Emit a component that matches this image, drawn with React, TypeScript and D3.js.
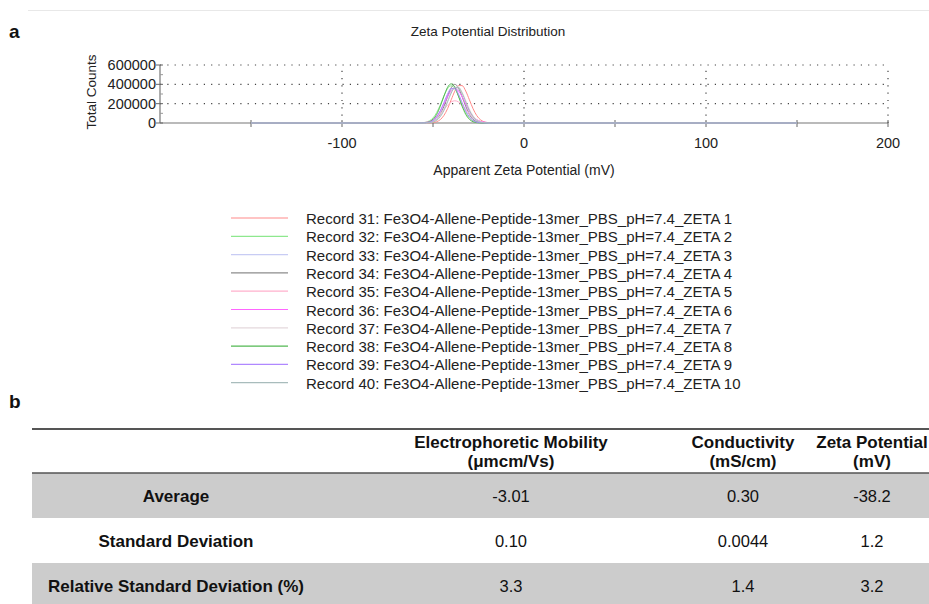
import React from "react";
import * as d3 from "d3";

// ---------- DATA ----------
const zetaGrid = [-150, -58, -56, -54, -52, -50, -48, -46, -44, -42, -40, -38, -36, -34, -32, -30, -28, -26, -24, -22, -20, -18, -16, -14, 150];

// counts in thousands
const rec31 = [0, 0, 0, 0, 1, 4, 13, 35, 78, 148, 240, 330, 387, 387, 330, 240, 148, 78, 35, 13, 4, 1, 0, 0, 0];
const rec32 = [0, 1, 2, 8, 22, 52, 107, 187, 280, 355, 385, 355, 280, 187, 107, 52, 22, 8, 2, 1, 0, 0, 0, 0, 0];
const rec33 = [0, 0, 1, 2, 7, 21, 50, 103, 180, 269, 342, 370, 342, 269, 180, 103, 50, 21, 7, 2, 1, 0, 0, 0, 0];
const rec34 = [0, 0, 0, 1, 4, 13, 38, 88, 171, 274, 364, 400, 364, 274, 171, 88, 38, 13, 4, 1, 0, 0, 0, 0, 0];
const rec35 = [0, 1, 3, 7, 15, 31, 57, 95, 140, 184, 218, 230, 218, 184, 140, 95, 57, 31, 15, 7, 3, 1, 0, 0, 0];
const rec36 = [0, 0, 2, 5, 14, 33, 68, 123, 196, 273, 332, 355, 332, 273, 196, 123, 70, 36, 18, 9, 5, 3, 1, 0, 0];
const rec37 = [0, 0, 0, 1, 4, 13, 34, 75, 143, 231, 317, 372, 372, 317, 231, 143, 75, 34, 13, 4, 1, 0, 0, 0, 0];
const rec38 = [0, 0, 1, 4, 13, 38, 89, 173, 277, 369, 405, 369, 277, 173, 89, 38, 13, 4, 1, 0, 0, 0, 0, 0, 0];
const rec39 = [0, 0, 1, 3, 9, 26, 63, 126, 212, 300, 357, 357, 300, 212, 126, 63, 26, 9, 3, 1, 0, 0, 0, 0, 0];
const rec40 = [0, 0, 0, 1, 3, 10, 27, 65, 129, 218, 309, 367, 367, 309, 218, 129, 65, 27, 10, 3, 1, 0, 0, 0, 0];

const recordSeries = [rec31, rec32, rec33, rec34, rec35, rec36, rec37, rec38, rec39, rec40];
const recordNames = [
  "Record 31: Fe3O4-Allene-Peptide-13mer_PBS_pH=7.4_ZETA 1",
  "Record 32: Fe3O4-Allene-Peptide-13mer_PBS_pH=7.4_ZETA 2",
  "Record 33: Fe3O4-Allene-Peptide-13mer_PBS_pH=7.4_ZETA 3",
  "Record 34: Fe3O4-Allene-Peptide-13mer_PBS_pH=7.4_ZETA 4",
  "Record 35: Fe3O4-Allene-Peptide-13mer_PBS_pH=7.4_ZETA 5",
  "Record 36: Fe3O4-Allene-Peptide-13mer_PBS_pH=7.4_ZETA 6",
  "Record 37: Fe3O4-Allene-Peptide-13mer_PBS_pH=7.4_ZETA 7",
  "Record 38: Fe3O4-Allene-Peptide-13mer_PBS_pH=7.4_ZETA 8",
  "Record 39: Fe3O4-Allene-Peptide-13mer_PBS_pH=7.4_ZETA 9",
  "Record 40: Fe3O4-Allene-Peptide-13mer_PBS_pH=7.4_ZETA 10",
];
const recordColors = ["#ff8a8a", "#8ee88e", "#c8ccf4", "#8c8c8c", "#ffb0cc", "#ff66ff", "#e4d8dc", "#52b852", "#b088ff", "#a8bcbc"];

const xMajorTicks = [-100, 0, 100, 200];
const xMinorTicks = [-150, -50, 50, 150];
const yMajorTicks = [0, 200000, 400000, 600000];
const yMinorTicks = [100000, 300000, 500000];

const tableHeaders = [
  ["Electrophoretic Mobility", "(μmcm/Vs)"],
  ["Conductivity", "(mS/cm)"],
  ["Zeta Potential", "(mV)"],
];
const rowLabels = ["Average", "Standard Deviation", "Relative Standard Deviation (%)"];
const mobilityValues = ["-3.01", "0.10", "3.3"];
const conductivityValues = ["0.30", "0.0044", "1.4"];
const zetaValues = ["-38.2", "1.2", "3.2"];

// ---------- LAYOUT ----------
const W = 929;
const H = 604;
const FONT = "'Liberation Sans', Arial, Helvetica, sans-serif";

export default function App() {
  const x = d3.scaleLinear().domain([-200, 200]).range([160, 888]);
  const y = d3.scaleLinear().domain([0, 600000]).range([123, 65]);
  const line = d3
    .line<number>()
    .x((_, i) => x(zetaGrid[i]))
    .y((d) => y(d * 1000))
    .curve(d3.curveMonotoneX);

  const colCenters = [511, 743, 872];
  const rowTop = 473;
  const rowH = 45;
  const valueCols = [mobilityValues, conductivityValues, zetaValues];

  return (
    <svg
      width={W}
      height={H}
      viewBox={`0 0 ${W} ${H}`}
      style={{ position: "absolute", left: 0, top: 0, background: "#fff" }}
      fontFamily={FONT}
    >
      <rect x={0} y={0} width={W} height={H} fill="#fff" />
      <line x1={28} x2={W} y1={10.5} y2={10.5} stroke="#e8e8e8" strokeWidth={1} />

      {/* panel a */}
      <text x={9} y={38} fontSize={19} fontWeight="bold" fill="#111">a</text>
      <text x={488} y={36} fontSize={13.5} textAnchor="middle" fill="#222">Zeta Potential Distribution</text>

      {/* grid */}
      {yMajorTicks.filter((t) => t > 0).map((t) => (
        <line key={"gy" + t} x1={x(-200)} x2={x(200)} y1={y(t)} y2={y(t)} stroke="#444" strokeWidth={1.2} strokeDasharray="1.2 6.1" />
      ))}
      {xMajorTicks.map((t) => (
        <line key={"gx" + t} x1={x(t)} x2={x(t)} y1={y(0)} y2={y(600000)} stroke="#444" strokeWidth={1.2} strokeDasharray="1.2 6.1" />
      ))}

      {/* axes */}
      <line x1={x(-200)} x2={x(200)} y1={y(0)} y2={y(0)} stroke="#777" strokeWidth={1.2} />
      <line x1={x(-200)} x2={x(-200)} y1={y(0)} y2={y(600000)} stroke="#777" strokeWidth={1.2} />
      {yMajorTicks.map((t) => (
        <line key={"yt" + t} x1={x(-200) - 4} x2={x(-200) + 3} y1={y(t)} y2={y(t)} stroke="#666" strokeWidth={1} />
      ))}
      {yMinorTicks.map((t) => (
        <line key={"ym" + t} x1={x(-200)} x2={x(-200) + 3} y1={y(t)} y2={y(t)} stroke="#999" strokeWidth={1} />
      ))}
      {[...xMajorTicks, ...xMinorTicks].map((t) => (
        <line key={"xt" + t} x1={x(t)} x2={x(t)} y1={y(0) - 3} y2={y(0) + 4} stroke="#666" strokeWidth={1} />
      ))}

      {/* curves */}
      {recordSeries.map((s, i) => (
        <path key={"c" + i} d={line(s) || ""} fill="none" stroke={recordColors[i]} strokeWidth={1} />
      ))}

      {/* tick labels */}
      {yMajorTicks.map((t) => (
        <text key={"yl" + t} x={x(-200) - 4} y={y(t) + 5} fontSize={14.5} textAnchor="end" fill="#222">{t}</text>
      ))}
      {xMajorTicks.map((t) => (
        <text key={"xl" + t} x={x(t)} y={148} fontSize={14.5} textAnchor="middle" fill="#222">{t}</text>
      ))}
      <text x={524} y={175} fontSize={14} textAnchor="middle" fill="#222">Apparent Zeta Potential (mV)</text>
      <text transform="translate(96,92) rotate(-90)" fontSize={13.5} textAnchor="middle" fill="#222">Total Counts</text>

      {/* legend */}
      {recordNames.map((n, i) => {
        const cy = 219 + i * 18.3;
        return (
          <g key={"lg" + i}>
            <line x1={231} x2={288} y1={cy - 1} y2={cy - 1} stroke={recordColors[i]} strokeWidth={1.2} />
            <text x={306} y={cy + 5} fontSize={15} fill="#222">{n}</text>
          </g>
        );
      })}

      {/* panel b */}
      <text x={9} y={408} fontSize={19} fontWeight="bold" fill="#111">b</text>

      <line x1={32} x2={W} y1={429} y2={429} stroke="#555" strokeWidth={2} />
      {tableHeaders.map((h, i) => (
        <g key={"th" + i}>
          <text x={colCenters[i]} y={448} fontSize={17} fontWeight="bold" textAnchor="middle" fill="#111">{h[0]}</text>
          <text x={colCenters[i]} y={467} fontSize={17} fontWeight="bold" textAnchor="middle" fill="#111">{h[1]}</text>
        </g>
      ))}

      {rowLabels.map((r, i) => {
        const top = rowTop + i * rowH;
        const cy = top + rowH / 2;
        return (
          <g key={"row" + i}>
            {i % 2 === 0 && <rect x={32} y={top} width={W - 32} height={rowH} fill="#cccccc" />}
            <text x={176} y={cy + 6} fontSize={17} fontWeight="bold" textAnchor="middle" fill="#111">{r}</text>
            {valueCols.map((vals, j) => (
              <text key={"v" + j} x={colCenters[j]} y={cy + 6} fontSize={16.5} textAnchor="middle" fill="#111">{vals[i]}</text>
            ))}
          </g>
        );
      })}
      <line x1={32} x2={W} y1={473} y2={473} stroke="#555" strokeWidth={1.5} />
    </svg>
  );
}
